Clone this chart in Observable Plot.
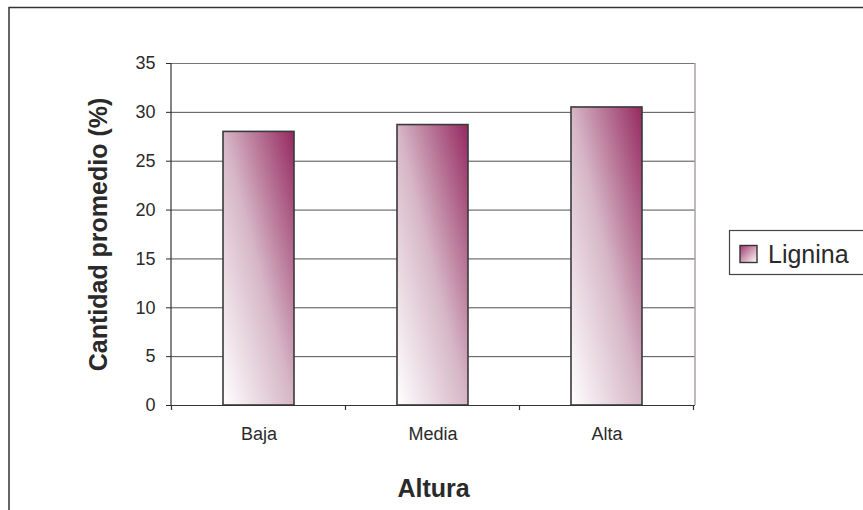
<!DOCTYPE html>
<html>
<head>
<meta charset="utf-8">
<script src="https://cdn.jsdelivr.net/npm/d3@7"></script>
<script src="https://cdn.jsdelivr.net/npm/@observablehq/plot@0.6"></script>
<style>
  html, body { margin: 0; padding: 0; background: #fff; }
  #chart { width: 863px; height: 510px; overflow: hidden; }
</style>
</head>
<body>
<div id="chart"></div>
<script>
// Lignin content by tree height class
const categories = ["Baja", "Media", "Alta"];
const values = [28.0, 28.7, 30.5];
const yTicks = [0, 5, 10, 15, 20, 25, 30, 35];
const seriesName = "Lignina";
const yTitle = "Cantidad promedio (%)";
const xTitle = "Altura";

const rows = categories.map((c, i) => ({altura: c, valor: values[i]}));

const W = 863, H = 510;
const mL = 171, mR = 168, mT = 63, mB = 105;

const chart = Plot.plot({
  width: W,
  height: H,
  marginLeft: mL,
  marginRight: mR,
  marginTop: mT,
  marginBottom: mB,
  style: {fontFamily: "'Liberation Sans', Arial, sans-serif", color: "#2a2a2a", background: "#fff"},
  x: {domain: categories, paddingInner: 0.59, paddingOuter: 0.295},
  y: {domain: [0, 35]},
  marks: [
    Plot.gridY(yTicks.filter(t => t > 0 && t < 35), {stroke: "#505050", strokeOpacity: 1}),
    Plot.ruleY([35], {stroke: "#7d7373", strokeWidth: 1.2}),
    Plot.barY(rows, {x: "altura", y: "valor", fill: "url(#lignina-fill)", stroke: "#3a3a3a", strokeWidth: 1.6}),
    Plot.ruleY([0], {stroke: "#333", strokeWidth: 1.2}),
    Plot.axisY({ticks: yTicks, tickSize: 5, tickPadding: 11, fontSize: 19, label: null}),
    Plot.axisX({tickSize: 0, tickPadding: 22, fontSize: 19, label: null}),
    Plot.text([yTitle], {text: d => d, frameAnchor: "left", textAnchor: "middle", lineAnchor: "middle", dx: -73, rotate: -90, fontSize: 25, fontWeight: "bold", fill: "#2a2a2a"}),
    Plot.text([xTitle], {text: d => d, frameAnchor: "bottom", textAnchor: "middle", lineAnchor: "middle", dy: 83, fontSize: 25, fontWeight: "bold", fill: "#2a2a2a"})
  ]
});

const svg = d3.select(chart);

// tick label size
svg.selectAll("g[aria-label='y-axis tick label'], g[aria-label='x-axis tick label']")
  .attr("font-size", 18).style("font-size", "18px");

// diagonal gradient fill for the bars and the legend swatch
const defs = svg.insert("defs", ":first-child");
const grad = defs.append("linearGradient")
  .attr("id", "lignina-fill")
  .attr("x1", 0).attr("y1", 1).attr("x2", 1).attr("y2", 0);
grad.append("stop").attr("offset", 0).attr("stop-color", "#ffffff");
grad.append("stop").attr("offset", 0.5).attr("stop-color", "#d6b6c6");
grad.append("stop").attr("offset", 1).attr("stop-color", "#952960");

const gradL = defs.append("linearGradient")
  .attr("id", "lignina-swatch")
  .attr("x1", 0).attr("y1", 0).attr("x2", 1).attr("y2", 1);
gradL.append("stop").attr("offset", 0).attr("stop-color", "#a3396d");
gradL.append("stop").attr("offset", 1).attr("stop-color", "#ffffff");

const x = chart.scale("x");
const y = chart.scale("y");
const y0 = y.apply(0), y35 = y.apply(35);
const left = mL, right = W - mR;
const deco = svg.append("g");

// plot-area right edge and value axis line
deco.append("line").attr("x1", right).attr("x2", right).attr("y1", y35).attr("y2", y0)
  .attr("stroke", "#aaa3a3").attr("stroke-width", 1.5);
deco.append("line").attr("x1", left).attr("x2", left).attr("y1", y35).attr("y2", y0)
  .attr("stroke", "#333").attr("stroke-width", 1.2);

// category boundary ticks
const gap = (x.step - x.bandwidth) / 2;
const bounds = categories.map(c => x.apply(c) - gap).concat([x.apply(categories[categories.length - 1]) + x.bandwidth + gap]);
deco.selectAll(".ctick").data(bounds).join("line")
  .attr("x1", d => d).attr("x2", d => d).attr("y1", y0).attr("y2", y0 + 5)
  .attr("stroke", "#333").attr("stroke-width", 1.2);

// chart border
deco.append("rect").attr("x", 9).attr("y", 7.5).attr("width", 1000).attr("height", 700)
  .attr("fill", "none").attr("stroke", "#333").attr("stroke-width", 1.5);

// legend
const lg = deco.append("g");
lg.append("rect").attr("x", 729.5).attr("y", 230.5).attr("width", 300).attr("height", 44)
  .attr("fill", "#fff").attr("stroke", "#444").attr("stroke-width", 1.2);
lg.append("rect").attr("x", 740).attr("y", 245.5).attr("width", 17).attr("height", 17)
  .attr("fill", "url(#lignina-swatch)").attr("stroke", "#333").attr("stroke-width", 1.4);
lg.append("text").attr("x", 768).attr("y", 263)
  .attr("text-anchor", "start")
  .attr("font-size", 25).attr("fill", "#2a2a2a").text(seriesName);

document.getElementById("chart").appendChild(chart);
</script>
</body>
</html>
